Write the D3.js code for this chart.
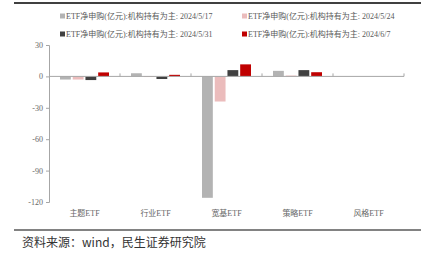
<!DOCTYPE html>
<meta charset="utf-8">
<style>
    body { margin: 0; background: #fff; }
    svg { display: block; }
    .axis text { font: 8px "Liberation Serif", "Noto Sans CJK SC", serif; fill: #666; }
    .legend text { font: 8px "Liberation Serif", "Noto Sans CJK SC", serif; fill: #595959; }
    .source { font: 12px "Noto Sans CJK SC", sans-serif; fill: #333; }
</style>
<svg></svg>
<script src="https://cdn.jsdelivr.net/npm/d3@7"></script>
<script>

    var width = 424,
        height = 257;

    var categories = ["主题ETF", "行业ETF", "宽基ETF", "策略ETF", "风格ETF"];
    var seriesNames = [
        "ETF净申购(亿元):机构持有为主: 2024/5/17",
        "ETF净申购(亿元):机构持有为主: 2024/5/24",
        "ETF净申购(亿元):机构持有为主: 2024/5/31",
        "ETF净申购(亿元):机构持有为主: 2024/6/7"
    ];
    var s0517 = [-3, 3, -116, 5.3, 0];
    var s0524 = [-3, -0.6, -24, 0.8, 0];
    var s0531 = [-3.5, -2.5, 6, 6, 0];
    var s0607 = [3.8, 1.5, 11.5, 4, 0];
    var yTicks = [30, 0, -30, -60, -90, -120];
    var colors = ["#b3b3b3", "#ebbcbc", "#404040", "#c00000"];

    var series = [s0517, s0524, s0531, s0607];

    var svg = d3.select("svg")
        .attr("width", width)
        .attr("height", height);

    var x = d3.scaleBand()
        .domain(categories)
        .range([49, 404]);

    var xInner = d3.scaleBand()
        .domain(d3.range(series.length))
        .range([11, x.bandwidth() - 11])
        .paddingInner(0.15);

    var y = d3.scaleLinear()
        .domain([-120, 30])
        .range([202, 45]);

    // frame lines
    svg.append("line")
        .attr("x1", 14).attr("x2", 421)
        .attr("y1", 3).attr("y2", 3)
        .attr("stroke", "#404040").attr("stroke-width", 2);
    svg.append("line")
        .attr("x1", 14).attr("x2", 421)
        .attr("y1", 230).attr("y2", 230)
        .attr("stroke", "#595959").attr("stroke-width", 1.5);

    // y axis
    var yAxis = svg.append("g")
        .attr("class", "axis")
        .attr("transform", "translate(49,0)")
        .call(d3.axisLeft(y).tickValues(yTicks).tickSize(3).tickPadding(3)
            .tickFormat(function(d) { return String(d); }));
    yAxis.selectAll("path, line").attr("stroke", "#a6a6a6");

    // bars
    series.forEach(function(vals, i) {
        svg.append("g")
            .selectAll("rect")
            .data(vals)
            .enter().append("rect")
            .attr("x", function(d, j) { return x(categories[j]) + xInner(i); })
            .attr("width", xInner.bandwidth())
            .attr("y", function(d) { return y(Math.max(0, d)); })
            .attr("height", function(d) { return Math.abs(y(d) - y(0)); })
            .attr("fill", colors[i]);
    });

    // zero axis with category ticks
    svg.append("line")
        .attr("x1", 49).attr("x2", 404)
        .attr("y1", y(0)).attr("y2", y(0))
        .attr("stroke", "#a6a6a6");
    svg.append("g")
        .selectAll("line")
        .data(categories.slice(1).concat(["end"]))
        .enter().append("line")
        .attr("x1", function(d) { return d === "end" ? 404 : x(d); })
        .attr("x2", function(d) { return d === "end" ? 404 : x(d); })
        .attr("y1", y(0)).attr("y2", y(0) - 3)
        .attr("stroke", "#a6a6a6");

    // category labels
    svg.append("g")
        .attr("class", "axis")
        .selectAll("text")
        .data(categories)
        .enter().append("text")
        .attr("x", function(d) { return x(d) + x.bandwidth() / 2; })
        .attr("y", 216)
        .attr("text-anchor", "middle")
        .text(function(d) { return d; });

    // legend
    var legend = svg.append("g").attr("class", "legend")
        .selectAll("g")
        .data(seriesNames)
        .enter().append("g")
        .attr("transform", function(d, i) {
            return "translate(" + (i % 2 === 0 ? 60 : 242) + "," + (i < 2 ? 19 : 37) + ")";
        });
    legend.append("rect")
        .attr("x", 0).attr("y", -5.5)
        .attr("width", 5).attr("height", 5)
        .attr("fill", function(d, i) { return colors[i]; });
    legend.append("text")
        .attr("x", 6).attr("y", 0)
        .text(function(d) { return d; });

    svg.append("text")
        .attr("class", "source")
        .attr("x", 22).attr("y", 247)
        .text("资料来源：wind，民生证券研究院");

</script>
